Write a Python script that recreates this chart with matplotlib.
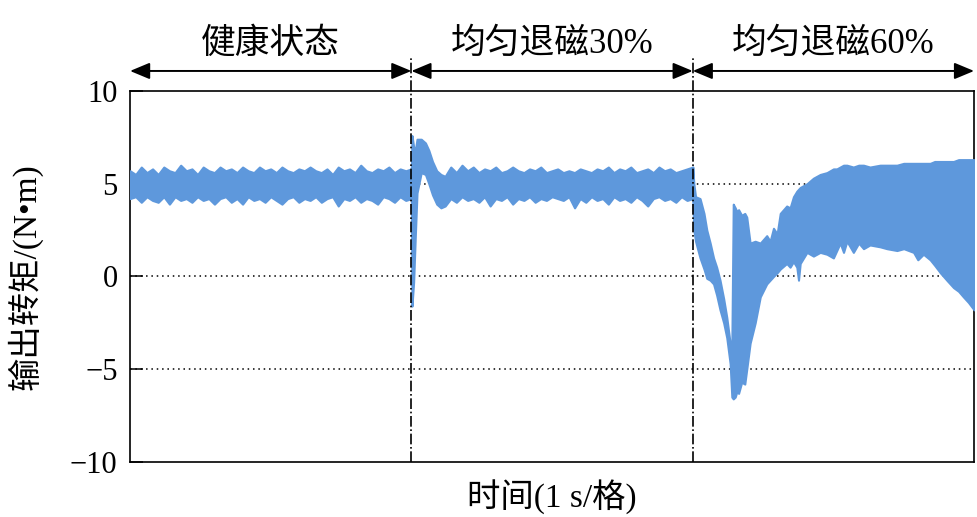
import numpy as np
import matplotlib
matplotlib.use("Agg")
from matplotlib import pyplot as plt

plt.rcParams['font.family'] = ['Liberation Serif', 'Noto Sans CJK SC', 'DejaVu Sans']
plt.rcParams['axes.unicode_minus'] = True

# envelope of the torque band: time (s), upper, lower (N*m)
t_healthy = [0.00, 0.02, 0.04, 0.06, 0.08, 0.10, 0.12, 0.14, 0.16, 0.18,
             0.20, 0.22, 0.24, 0.26, 0.28, 0.30, 0.32, 0.34, 0.36, 0.38,
             0.40, 0.42, 0.44, 0.46, 0.48, 0.50, 0.52, 0.54, 0.56, 0.58,
             0.60, 0.62, 0.64, 0.66, 0.68, 0.70, 0.72, 0.74, 0.76, 0.78,
             0.80, 0.82, 0.84, 0.86, 0.88, 0.90, 0.92, 0.94, 0.96, 0.98, 1.00]
hi_healthy = [5.7, 5.5, 5.9, 5.6, 5.8, 5.5, 5.9, 5.7, 5.6, 6.0,
              5.7, 5.8, 5.5, 5.9, 5.7, 5.6, 5.9, 5.7, 5.8, 5.6,
              5.9, 5.7, 5.6, 5.9, 5.7, 5.8, 5.6, 5.9, 5.7, 5.6,
              5.8, 5.7, 5.9, 5.7, 5.6, 5.8, 5.5, 5.9, 5.7, 5.8,
              5.6, 6.0, 5.7, 5.6, 5.8, 5.7, 5.9, 5.6, 5.8, 5.7, 5.8]
lo_healthy = [4.2, 4.3, 4.0, 4.3, 4.1, 4.0, 4.3, 3.9, 4.3, 4.1,
              4.2, 4.0, 4.3, 4.1, 4.2, 3.9, 4.2, 4.3, 4.0, 4.2,
              3.9, 4.3, 4.1, 4.2, 4.0, 4.3, 4.1, 3.9, 4.2, 4.3,
              4.0, 4.2, 4.1, 4.3, 4.0, 4.2, 4.3, 3.8, 4.2, 4.1,
              4.3, 4.0, 4.2, 4.1, 3.9, 4.3, 4.2, 4.0, 4.3, 4.1, 4.2]

t_demag30 = [1.000, 1.002, 1.008, 1.014, 1.020, 1.035, 1.050, 1.062, 1.075, 1.090, 1.105,
             1.12, 1.14, 1.16, 1.18, 1.20, 1.22, 1.24, 1.26, 1.28, 1.30,
             1.32, 1.34, 1.36, 1.38, 1.40, 1.42, 1.44, 1.46, 1.48, 1.50,
             1.52, 1.54, 1.56, 1.58, 1.60, 1.62, 1.64, 1.66, 1.68, 1.70,
             1.72, 1.74, 1.76, 1.78, 1.80, 1.82, 1.84, 1.86, 1.88, 1.90,
             1.92, 1.94, 1.96, 1.98, 2.00]
hi_demag30 = [5.8, 7.6, 7.0, 6.8, 7.4, 7.4, 7.2, 6.8, 6.2, 5.7, 5.5,
              5.4, 5.9, 5.6, 6.0, 5.7, 5.9, 5.6, 5.8, 5.7, 5.9,
              5.6, 5.7, 5.9, 5.7, 5.6, 5.8, 5.7, 5.9, 5.6, 5.7,
              5.8, 5.6, 5.7, 5.6, 5.8, 5.7, 5.6, 5.8, 5.7, 5.9,
              5.6, 5.8, 5.7, 5.9, 5.6, 5.7, 5.8, 5.6, 5.9, 5.7,
              5.8, 5.6, 5.7, 5.8, 5.9]
lo_demag30 = [4.2, -1.6, -0.3, 2.2, 4.5, 5.6, 5.5, 5.0, 4.4, 3.9, 3.7,
              3.8, 4.2, 4.0, 4.3, 4.1, 4.2, 4.0, 4.3, 3.8, 4.2,
              4.1, 4.3, 3.9, 4.2, 4.1, 4.3, 4.0, 4.2, 4.1, 4.3,
              4.2, 4.1, 4.3, 3.7, 4.2, 4.0, 4.3, 4.1, 4.2, 3.9,
              4.3, 4.1, 4.2, 4.0, 4.3, 4.1, 3.8, 4.2, 4.3, 4.1,
              4.2, 4.0, 4.3, 4.1, 4.2]

t_demag60 = [2.000, 2.004, 2.010, 2.026, 2.040, 2.050, 2.062, 2.074, 2.085, 2.097,
             2.110, 2.121, 2.133, 2.139, 2.144, 2.151, 2.157, 2.163, 2.174, 2.185,
             2.192, 2.204, 2.222, 2.240, 2.263, 2.275, 2.287, 2.300, 2.311, 2.334,
             2.346, 2.358, 2.370, 2.376, 2.382, 2.406, 2.429, 2.453, 2.477, 2.500,
             2.512, 2.524, 2.536, 2.548, 2.571, 2.59, 2.607, 2.63, 2.666, 2.69,
             2.726, 2.75, 2.785, 2.80, 2.82, 2.844, 2.86, 2.880, 2.903, 2.927,
             2.945, 2.962, 2.98, 3.000]
hi_demag60 = [5.9, 5.0, 4.3, 4.2, 3.4, 2.5, 1.8, 1.0, 0.5, -0.2,
              -1.2, -2.2, -3.6, -3.8, 3.9, 3.7, 3.5, 3.6, 3.3, 3.4,
              3.2, 1.8, 1.9, 1.8, 2.2, 1.9, 2.6, 2.3, 3.4, 3.8,
              3.7, 4.3, 4.6, 4.7, 4.8, 5.0, 5.3, 5.5, 5.6, 5.8,
              5.8, 5.9, 6.0, 6.0, 5.9, 6.0, 6.0, 5.9, 6.0, 6.0,
              6.0, 6.1, 6.1, 6.1, 6.1, 6.1, 6.2, 6.2, 6.2, 6.2,
              6.3, 6.3, 6.3, 6.3]
lo_demag60 = [4.2, 2.5, 1.9, 1.0, 0.4, -0.1, -0.2, -0.4, -1.0, -1.8,
              -2.5, -3.3, -4.7, -6.5, -6.6, -6.5, -6.2, -6.3, -5.7, -5.8,
              -5.0, -3.6, -2.5, -1.1, -0.4, -0.2, 0.0, 0.2, 0.4, 0.7,
              0.5, 0.8, 0.5, -0.2, 0.7, 1.3, 1.1, 1.3, 1.2, 1.0,
              1.4, 1.8, 1.3, 1.9, 1.3, 1.8, 1.5, 1.7, 1.6, 1.5,
              1.4, 1.5, 1.3, 0.9, 1.2, 0.9, 0.6, 0.2, -0.2, -0.6,
              -0.8, -1.1, -1.4, -1.8]

stages = ['健康状态', '均匀退磁30%', '均匀退磁60%']
stage_edges = [0, 1, 2, 3]
yticks = [-10, -5, 0, 5, 10]

fig = plt.figure(figsize=(9.77, 5.17), dpi=100)
ax = fig.add_axes([0.1331, 0.1064, 0.8639, 0.7176])

blue = '#5e98dc'
for t, hi, lo in [(t_healthy, hi_healthy, lo_healthy),
                  (t_demag30, hi_demag30, lo_demag30),
                  (t_demag60, hi_demag60, lo_demag60)]:
    ax.fill_between(t, lo, hi, color=blue, lw=1.5, edgecolor=blue, zorder=3)

for g in [5, 0, -5]:
    ax.axhline(g, color='k', ls=(0, (1, 2.5)), lw=1.1, zorder=1)

for xe in stage_edges[1:-1]:
    ax.plot([xe, xe], [-10, 11.78], color='k', ls='-.', lw=1.2, clip_on=False, zorder=4)

for i, name in enumerate(stages):
    a, b = stage_edges[i], stage_edges[i + 1]
    ax.annotate('', xy=(a, 11.08), xytext=(b, 11.08),
                arrowprops=dict(arrowstyle='<|-|>,head_length=0.6,head_width=0.25',
                                color='k', lw=1.4, mutation_scale=20,
                                shrinkA=0, shrinkB=0),
                annotation_clip=False)
    ax.text((a + b) / 2, 12.5, name, ha='center', va='center', fontsize=25)

ax.set_xlim(0, 3)
ax.set_ylim(-10, 10)
ax.set_xticks([])
ax.set_yticks(yticks)
ax.tick_params(axis='y', direction='in', length=9, width=1.1, labelsize=22, pad=9)
for s in ax.spines.values():
    s.set_linewidth(1.2)

ax.set_xlabel('时间(1 s/格)', fontsize=24, labelpad=13)
ax.set_ylabel('输出转矩/(N•m)', fontsize=24, labelpad=20)

fig.savefig('out.png', dpi=100)
